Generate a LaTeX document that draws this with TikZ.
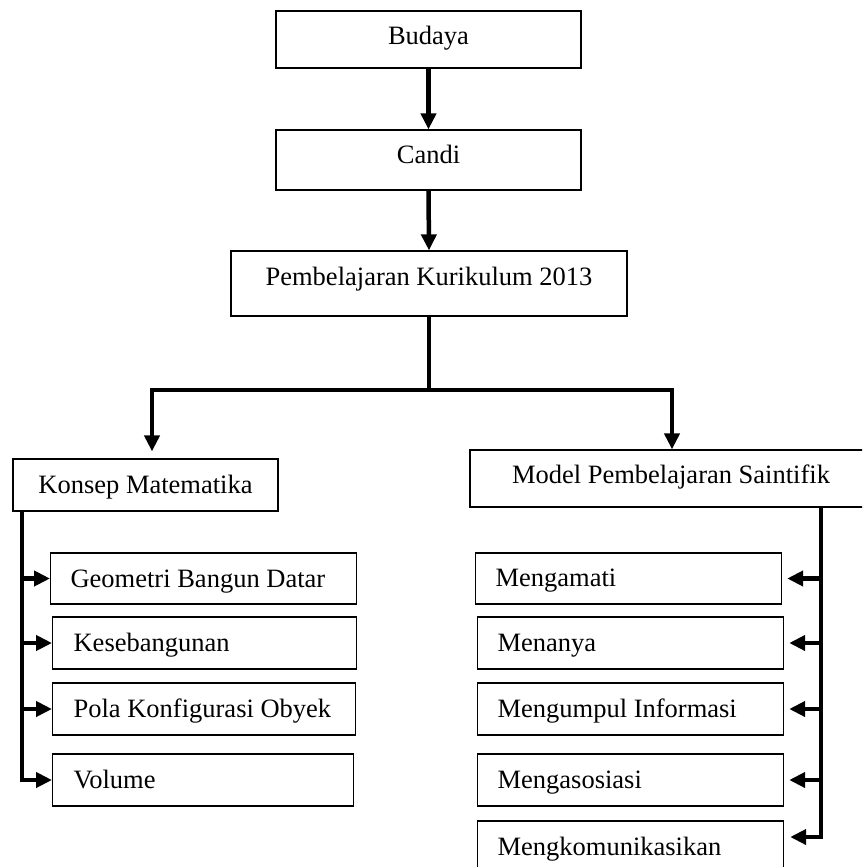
\documentclass[tikz,border=0pt]{standalone}
\usepackage{fontspec}
\setmainfont{Liberation Serif}
\usetikzlibrary{arrows.meta}
\newcommand{\lefttext}[2]{\makebox[#1][l]{#2}}
\begin{document}
\begin{tikzpicture}[x=1pt,y=-1pt,
  box/.style={draw=black, line width=1.2pt, inner sep=0pt, font=\fontsize{26.5}{30}\selectfont, anchor=base},
  lbox/.style={box, anchor=base west, inner xsep=20pt, text height=34pt, text depth=18pt},
  conn/.style={line width=4.5pt, line join=miter},
  arr/.style={conn, -{Triangle[length=16pt,width=15pt]}}]
\useasboundingbox (0,0) rectangle (862,867);
\clip (0,0) rectangle (862,867);
% top chain
\node[box, minimum width=305pt, text height=34pt, text depth=23pt] (budaya) at (428.5,45) {Budaya};
\node[box, minimum width=305pt, text height=33pt, text depth=27pt] (candi) at (428.5,163) {Candi};
\node[box, minimum width=396pt, text height=34pt, text depth=31pt] (pemb) at (429,285) {Pembelajaran Kurikulum 2013};
% second level
\node[box, minimum width=265pt, text height=34pt, text depth=18pt] (konsep) at (145.5,493) {Konsep Matematika};
\node[box, minimum width=402pt, text height=33pt, text depth=24pt] (model) at (671,483) {Model Pembelajaran Saintifik};
% left column
\node[lbox, text depth=17pt] (geo) at (50,587) {\lefttext{266pt}{Geometri Bangun Datar}};
\node[lbox, inner xsep=21pt] (kes) at (52,651) {\lefttext{262pt}{Kesebangunan}};
\node[lbox, inner xsep=21pt] (pola) at (52,717) {\lefttext{261pt}{Pola Konfigurasi Obyek}};
\node[lbox, inner xsep=21pt] (vol) at (52,788) {\lefttext{259pt}{Volume}};
% right column
\node[lbox, text height=33pt] (amati) at (475,586) {\lefttext{266pt}{Mengamati}};
\node[lbox] (tanya) at (477,651) {\lefttext{266pt}{Menanya}};
\node[lbox] (kumpul) at (477,717) {\lefttext{266pt}{Mengumpul Informasi}};
\node[lbox] (asos) at (477,788) {\lefttext{266pt}{Mengasosiasi}};
\node[lbox] (komun) at (477,855) {\lefttext{266pt}{Mengkomunikasikan}};
% connectors top
\draw[arr] (budaya.south) -- (candi.north);
\draw[arr] (candi.south) -- (pemb.north);
\coordinate (jl) at (152,390);
\coordinate (jr) at (672,390);
\draw[arr, shorten >=7pt] (pemb.south) |- (jl) -- (jl |- konsep.north);
\draw[arr] (pemb.south) |- (jr) -- (jr |- model.north);
% left bus
\coordinate (lbus) at (22,511);
\draw[arr] (lbus) |- (vol.west);
\draw[arr] (lbus |- geo.west) -- (geo.west);
\draw[arr] (lbus |- kes.west) -- (kes.west);
\draw[arr] (lbus |- pola.west) -- (pola.west);
% right bus
\coordinate (rbus) at (821,508);
\draw[arr, shorten >=6pt] (rbus) |- ([yshift=10pt]komun.east);
\draw[arr, shorten >=5pt] (rbus |- amati.east) -- (amati.east);
\draw[arr, shorten >=5pt] (rbus |- tanya.east) -- (tanya.east);
\draw[arr, shorten >=5pt] (rbus |- kumpul.east) -- (kumpul.east);
\draw[arr, shorten >=5pt] (rbus |- asos.east) -- (asos.east);
\end{tikzpicture}
\end{document}
